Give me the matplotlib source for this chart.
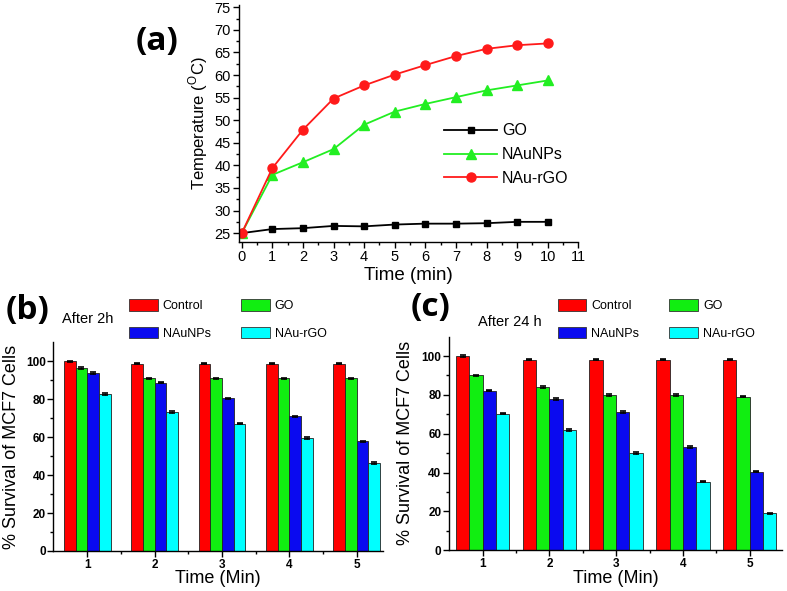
import numpy as np
import matplotlib
matplotlib.use("Agg")
import matplotlib.pyplot as plt
from matplotlib.patches import Patch

# panel (a): temperature rise under irradiation
time_min = [0, 1, 2, 3, 4, 5, 6, 7, 8, 9, 10]
temp_go = [25, 25.9, 26.1, 26.6, 26.5, 26.9, 27.1, 27.1, 27.2, 27.5, 27.5]
temp_naunps = [25, 37.9, 40.7, 43.6, 49.0, 51.9, 53.6, 55.1, 56.6, 57.7, 58.8]
temp_naurgo = [25, 39.4, 47.9, 54.8, 57.7, 60.1, 62.2, 64.2, 65.8, 66.6, 67.0]

# panels (b) and (c): cell survival
groups = [1, 2, 3, 4, 5]
bar_labels = ["Control", "GO", "NAuNPs", "NAu-rGO"]
surv_2h = {
    "Control": [100, 98.9, 98.9, 98.9, 98.9],
    "GO": [96.6, 91.0, 91.0, 91.0, 91.0],
    "NAuNPs": [93.9, 88.8, 80.5, 71.0, 57.8],
    "NAu-rGO": [82.7, 73.4, 67.2, 59.5, 46.3],
}
surv_24h = {
    "Control": [100, 98.1, 98.1, 98.1, 98.1],
    "GO": [90.0, 84.0, 80.0, 80.0, 79.1],
    "NAuNPs": [82.2, 77.9, 71.1, 53.3, 40.5],
    "NAu-rGO": [70.4, 61.9, 50.2, 35.3, 19.0],
}
err = 0.4

bar_colors = ["#ff0000", "#11ee11", "#0a0af0", "#00ffff"]

plt.rcParams["font.family"] = ["Liberation Sans", "DejaVu Sans"]
plt.rcParams["mathtext.fontset"] = "custom"
plt.rcParams["mathtext.rm"] = "Liberation Sans"
plt.rcParams["axes.linewidth"] = 1.0

fig = plt.figure(figsize=(7.87, 5.91), dpi=100)


def style_axes(ax):
    ax.spines["top"].set_visible(False)
    ax.spines["right"].set_visible(False)
    ax.tick_params(which="major", direction="out", length=4, width=1)
    ax.tick_params(which="minor", direction="out", length=2.2, width=1)


# ---- (a) line plot
ax_a = fig.add_axes([0.3037, 0.591, 0.4311, 0.4005])
style_axes(ax_a)
ax_a.plot(time_min, temp_go, color="black", marker="s", markersize=5, lw=1.3, label="GO")
ax_a.plot(time_min, temp_naunps, color="#22ee22", marker="^", markersize=6.5, lw=1.3, label="NAuNPs")
ax_a.plot(time_min, temp_naurgo, color="#ff1a1a", marker="o", markersize=6.5, lw=1.3, label="NAu-rGO")
ax_a.set_xlim(-0.09, 11)
ax_a.set_ylim(23.1, 75.5)
ax_a.set_xticks(range(0, 12))
ax_a.set_xticks(np.arange(0.5, 11, 1), minor=True)
ax_a.set_yticks(range(25, 80, 5))
ax_a.set_yticks(np.arange(27.5, 75, 5), minor=True)
ax_a.tick_params(labelsize=10.5, pad=2)
ax_a.set_xlabel("Time (min)", fontsize=13.5)
ax_a.set_ylabel("Temperature ($^{\\mathrm{O}}$C)", fontsize=12)
ax_a.xaxis.set_label_coords(0.5, -0.105)
ax_a.yaxis.set_label_coords(-0.085, 0.5)
ax_a.legend(loc="upper left", bbox_to_anchor=(0.605, 0.5), frameon=False,
            fontsize=11.5, handlelength=3.3, handletextpad=0.3, labelspacing=0.55,
            borderpad=0, borderaxespad=0)
fig.text(0.2, 0.93, "(a)", fontsize=24, fontweight="bold", family="Open Sans",
         ha="center", va="center")


# ---- (b) and (c) bar plots
def bar_panel(rect, data, width, xmax, tag, tag_xy, note, note_xy, leg_xy, xlab_y, ylab_x):
    ax = fig.add_axes(rect)
    style_axes(ax)
    x = np.array(groups, dtype=float)
    handles = []
    for i, (name, color) in enumerate(zip(bar_labels, bar_colors)):
        ax.bar(x + (i - 1.5) * width, data[name], width, color=color,
               edgecolor="#222222", linewidth=0.6,
               yerr=err, capsize=2.5,
               error_kw=dict(ecolor="black", elinewidth=1, capthick=1.2))
        handles.append(Patch(facecolor=color, edgecolor="#333333", linewidth=0.6, label=name))
    ax.set_xlim(0.495, xmax)
    ax.set_ylim(0, 110)
    ax.set_xticks(groups)
    ax.set_xticks(np.arange(1.5, 5.5, 1), minor=True)
    ax.set_yticks(range(0, 101, 20))
    ax.set_yticks(range(10, 110, 20), minor=True)
    ax.tick_params(labelsize=8.5, pad=1.5)
    for lbl in ax.get_xticklabels() + ax.get_yticklabels():
        lbl.set_fontweight("bold")
    ax.set_xlabel("Time (Min)", fontsize=13)
    ax.set_ylabel("% Survival of MCF7 Cells", fontsize=13)
    ax.xaxis.set_label_coords(0.5, xlab_y)
    ax.yaxis.set_label_coords(ylab_x, 0.5)
    order = [handles[0], handles[2], handles[1], handles[3]]
    fig.legend(handles=order, loc="upper left", bbox_to_anchor=leg_xy, ncol=2,
               frameon=False, fontsize=9, handlelength=2.3, handleheight=1.0,
               handletextpad=0.4, labelspacing=1.2, columnspacing=2.4,
               borderpad=0, borderaxespad=0)
    fig.text(tag_xy[0], tag_xy[1], tag, fontsize=24, fontweight="bold", family="Open Sans",
             ha="center", va="center")
    fig.text(note_xy[0], note_xy[1], note, fontsize=10.5, ha="left", va="center")
    return ax


bar_panel([0.0677, 0.0677, 0.419, 0.3528], surv_2h, 0.174, 5.39,
          "(b)", (0.035, 0.475), "After 2h", (0.079, 0.46), (0.164, 0.4935),
          -0.092, -0.1)
bar_panel([0.5705, 0.0689, 0.4227, 0.3616], surv_24h, 0.2, 5.48,
          "(c)", (0.547, 0.48), "After 24 h", (0.607, 0.455), (0.7087, 0.4935),
          -0.094, -0.105)

fig.savefig("out.png", dpi=100)
